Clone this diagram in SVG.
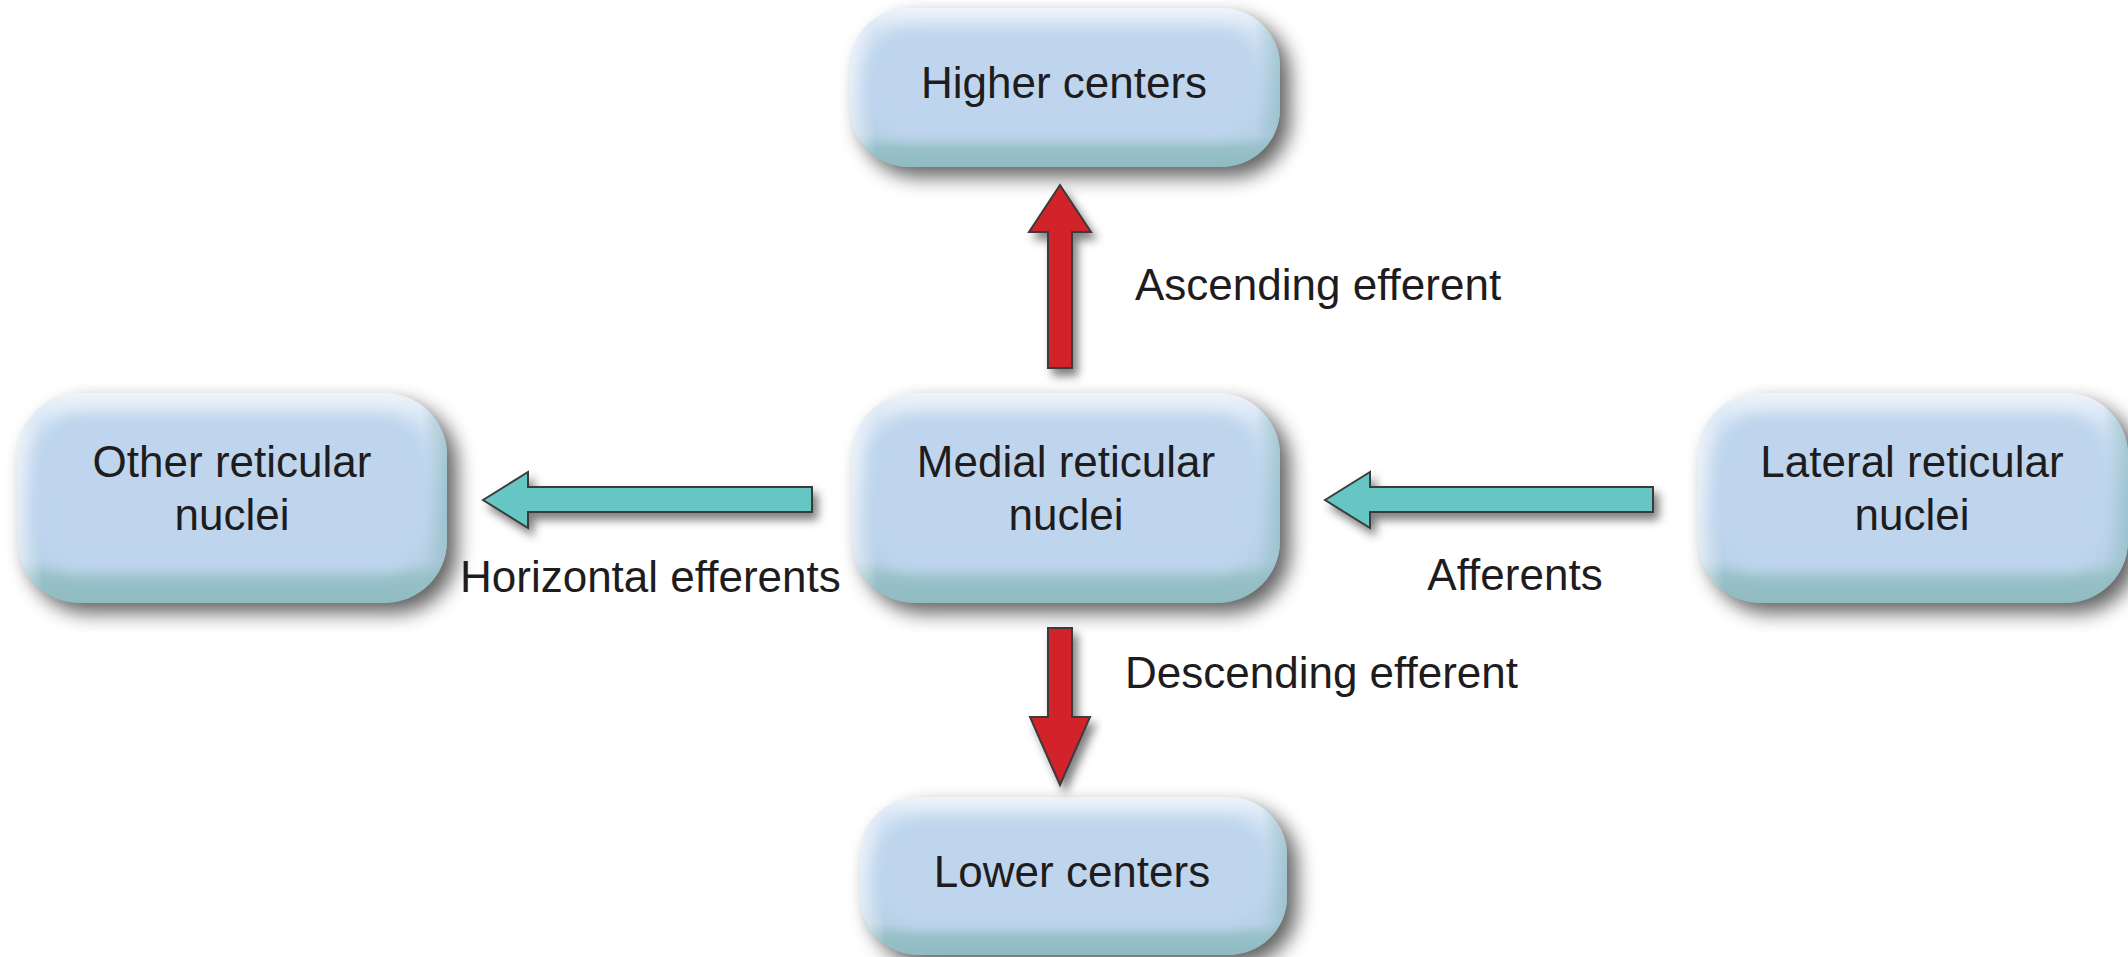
<svg xmlns="http://www.w3.org/2000/svg" width="2128" height="957" viewBox="0 0 2128 957">
  <defs>
    <!-- vertical body shading of the pill nodes -->
    <linearGradient id="nodeBody" x1="0" y1="0" x2="0" y2="1">
      <stop offset="0" stop-color="#eef4fb"/>
      <stop offset="0.14" stop-color="#d5e4f4"/>
      <stop offset="0.5" stop-color="#bed5ed"/>
      <stop offset="0.8" stop-color="#b6d0e4"/>
      <stop offset="0.88" stop-color="#98c1c9"/>
      <stop offset="1" stop-color="#8fbbc1"/>
    </linearGradient>
    <!-- side edges: light on the left, teal on the right -->
    <linearGradient id="nodeSides" x1="0" y1="0" x2="1" y2="0">
      <stop offset="0" stop-color="#ffffff" stop-opacity="0.6"/>
      <stop offset="0.06" stop-color="#ffffff" stop-opacity="0"/>
      <stop offset="0.94" stop-color="#8fbbc1" stop-opacity="0"/>
      <stop offset="1" stop-color="#8fbbc1" stop-opacity="0.65"/>
    </linearGradient>
    <filter id="nodeShadow" x="-20%" y="-30%" width="140%" height="160%">
      <feGaussianBlur stdDeviation="10"/>
    </filter>
    <filter id="soft" x="-10%" y="-10%" width="120%" height="120%">
      <feGaussianBlur stdDeviation="7"/>
    </filter>
    <filter id="arrowShadow" x="-20%" y="-40%" width="140%" height="180%">
      <feDropShadow dx="5" dy="7" stdDeviation="5" flood-color="#000" flood-opacity="0.5"/>
    </filter>
  </defs>
  <style>
    .label { font-family: "Liberation Sans", Arial, sans-serif; font-size: 44px; fill: #1f1c1d; }
    .mid { text-anchor: middle; }
    .shadow { fill: #000; opacity: 0.62; }
    .body { fill: url(#nodeBody); }
    .sides { fill: url(#nodeSides); }
    .plate { fill: #bed5ed; }
    .red { fill: #d2202a; stroke: #3a3a3a; stroke-width: 2; stroke-linejoin: miter; }
    .teal { fill: #66c6c4; stroke: #3a3a3a; stroke-width: 2; stroke-linejoin: miter; }
  </style>

  <rect width="2128" height="957" fill="#ffffff"/>

  <!-- Higher centers -->
  <g id="higher-centers">
    <rect class="shadow" x="860" y="18" width="430" height="159" rx="58" filter="url(#nodeShadow)"/>
    <rect class="body" x="850" y="8" width="430" height="159" rx="58"/>
    <rect class="sides" x="850" y="8" width="430" height="159" rx="58"/>
    <rect class="plate" x="866" y="28" width="396" height="110" rx="44" filter="url(#soft)"/>
    <text class="label mid" x="1064" y="98">Higher centers</text>
  </g>

  <!-- Other reticular nuclei -->
  <g id="other-reticular">
    <rect class="shadow" x="27" y="403" width="430" height="210" rx="62" filter="url(#nodeShadow)"/>
    <rect class="body" x="17" y="393" width="430" height="210" rx="62"/>
    <rect class="sides" x="17" y="393" width="430" height="210" rx="62"/>
    <rect class="plate" x="33" y="414" width="396" height="158" rx="48" filter="url(#soft)"/>
    <text class="label mid" x="232" y="477">Other reticular</text>
    <text class="label mid" x="232" y="530">nuclei</text>
  </g>

  <!-- Medial reticular nuclei -->
  <g id="medial-reticular">
    <rect class="shadow" x="862" y="403" width="428" height="210" rx="62" filter="url(#nodeShadow)"/>
    <rect class="body" x="852" y="393" width="428" height="210" rx="62"/>
    <rect class="sides" x="852" y="393" width="428" height="210" rx="62"/>
    <rect class="plate" x="868" y="414" width="394" height="158" rx="48" filter="url(#soft)"/>
    <text class="label mid" x="1066" y="477">Medial reticular</text>
    <text class="label mid" x="1066" y="530">nuclei</text>
  </g>

  <!-- Lateral reticular nuclei -->
  <g id="lateral-reticular">
    <rect class="shadow" x="1708" y="403" width="430" height="210" rx="62" filter="url(#nodeShadow)"/>
    <rect class="body" x="1698" y="393" width="430" height="210" rx="62"/>
    <rect class="sides" x="1698" y="393" width="430" height="210" rx="62"/>
    <rect class="plate" x="1714" y="414" width="396" height="158" rx="48" filter="url(#soft)"/>
    <text class="label mid" x="1912" y="477">Lateral reticular</text>
    <text class="label mid" x="1912" y="530">nuclei</text>
  </g>

  <!-- Lower centers -->
  <g id="lower-centers">
    <rect class="shadow" x="870" y="807" width="427" height="158" rx="58" filter="url(#nodeShadow)"/>
    <rect class="body" x="860" y="797" width="427" height="158" rx="58"/>
    <rect class="sides" x="860" y="797" width="427" height="158" rx="58"/>
    <rect class="plate" x="876" y="817" width="393" height="110" rx="44" filter="url(#soft)"/>
    <text class="label mid" x="1072" y="887">Lower centers</text>
  </g>

  <!-- block arrows between the nuclei -->
  <g id="connectors">
    <polygon class="red" filter="url(#arrowShadow)" points="1060,185 1091,232 1072,232 1072,368 1048,368 1048,232 1029,232"/>
    <polygon class="red" filter="url(#arrowShadow)" points="1048,628 1072,628 1072,717 1090,717 1060,785 1030,717 1048,717"/>
    <polygon class="teal" filter="url(#arrowShadow)" points="483,500 528,472 528,487 812,487 812,512 528,512 528,528"/>
    <polygon class="teal" filter="url(#arrowShadow)" points="1325,500 1370,472 1370,487 1653,487 1653,512 1370,512 1370,528"/>
    <text class="label" x="1135" y="300">Ascending efferent</text>
    <text class="label" x="1125" y="688">Descending efferent</text>
    <text class="label" x="460" y="592">Horizontal efferents</text>
    <text class="label mid" x="1515" y="590">Afferents</text>
  </g>
</svg>
